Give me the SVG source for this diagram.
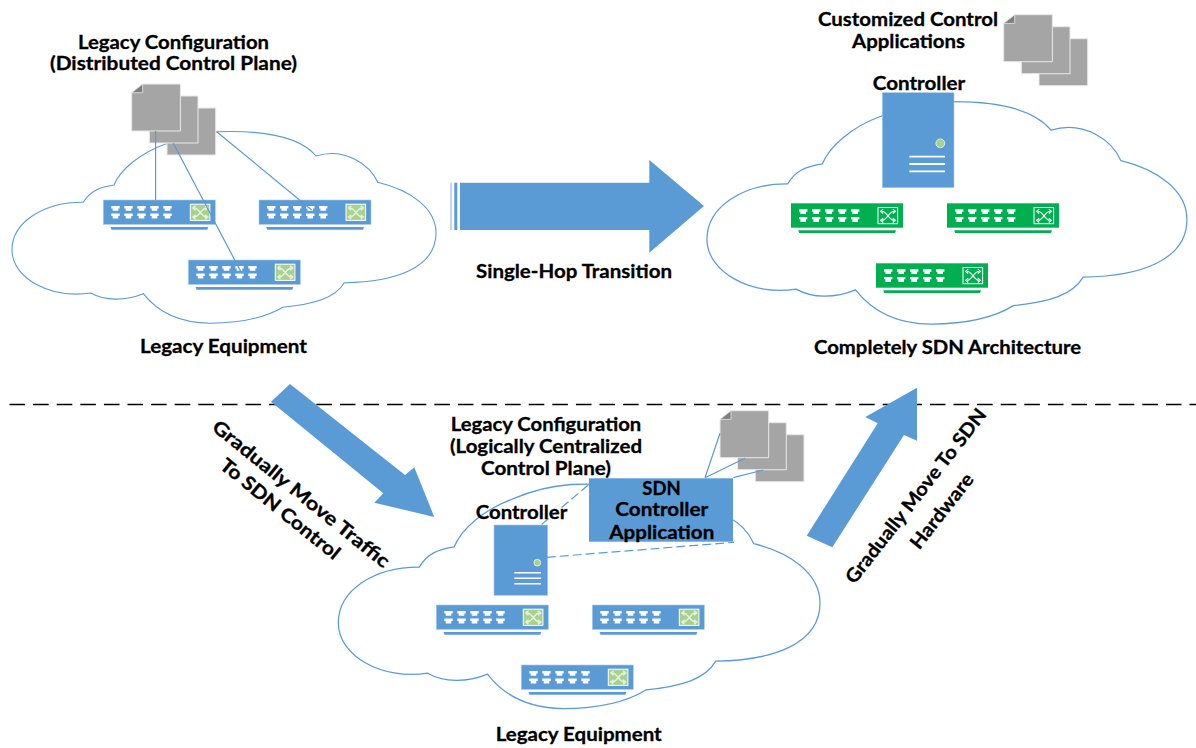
<svg xmlns="http://www.w3.org/2000/svg" xmlns:xlink="http://www.w3.org/1999/xlink" width="1196" height="748" viewBox="0 0 1196 748">
<style>
text{font-family:Lato,"Open Sans","Liberation Sans",sans-serif;font-weight:700;font-size:19px;fill:#000;stroke:#000;stroke-width:.3;text-anchor:middle}
.cloud{fill:none;stroke:#5b9bd5;stroke-width:1.1;vector-effect:non-scaling-stroke}
.conn{fill:none;stroke:#5b9bd5;stroke-width:1.2}
.dash{fill:none;stroke:#5b9bd5;stroke-width:1.2;stroke-dasharray:9 4}
.blue{fill:#5b9bd5}
.arrow{fill:#5b9bd5;stroke:none}
.doc{fill:#a5a5a5;stroke:#e9e9e9;stroke-width:1}
.port{fill:#fff}
.xl{fill:none;stroke:#fff;stroke-width:1.1}
.xg{fill:none;stroke:#e8f3e0;stroke-width:1.3}
</style>
<defs>
<path id="cl" d="M83.3,202.3C44,202 12,222 12,250C12,278 50,299 90.7,293C105,301 125,301 143.3,293.7C160,315 185,323 210,323.3C240,323 265,318 282.7,307.3C315,304 335,298 344.3,282.7C395,282 436,268 436,233C436,208 410,190 377.7,182.3C370,165 345,147 316,156C300,137 265,130 216.7,131.7C197,133 180,138 165.7,144C140,153 120,170 114,185C100,187 90,191 83.3,202.3Z"/>
<path id="xp" d="M91,8C96,8 98,17 103,17M91,17C96,17 98,8 103,8M92.2,5.8L89.6,8L92.2,10.2M92.2,14.8L89.6,17L92.2,19.2M101.8,5.8L104.4,8L101.8,10.2M101.8,14.8L104.4,17L101.8,19.2"/>
<g id="ports">
<path id="p1" class="port" d="M0,6H8.4V8.4H7V10.8H1.4V8.4H0ZM0,13.6H8.4V16H7V18.6H1.4V16H0Z"/>
<use xlink:href="#p1" href="#p1" x="13"/><use xlink:href="#p1" href="#p1" x="26"/><use xlink:href="#p1" href="#p1" x="39"/><use xlink:href="#p1" href="#p1" x="52"/>
</g>
<g id="swb">
<rect class="blue" width="112" height="24.4" stroke="#a9cbe8" stroke-width=".6"/>
<path class="blue" d="M7.2,27H105L104,29.8H8.2Z"/>
<use xlink:href="#ports" href="#ports" x="8"/>
<rect x="87" y="4.2" width="19.6" height="16.2" fill="#a9d18e" stroke="#fff" stroke-width="1"/>
<use xlink:href="#xp" href="#xp" class="xg"/>
</g>
<g id="swg">
<rect width="112" height="24.4" fill="#00b050"/>
<path fill="#00b050" d="M7.2,27H105L104,29.8H8.2Z"/>
<use xlink:href="#ports" href="#ports" x="8"/>
<rect x="87" y="4.2" width="19.6" height="16.2" fill="#00b050" stroke="#fff" stroke-width="1"/>
<use xlink:href="#xp" href="#xp" class="xl"/>
</g>
<g id="docs">
<rect class="doc" x="35.3" y="24" width="48.7" height="47"/>
<rect class="doc" x="17.6" y="12" width="48.7" height="47"/>
<path class="doc" d="M11,0H48.7V47H0V8.7Z"/>
<path fill="#7f7f7f" stroke="#e9e9e9" stroke-width=".8" d="M11,0V8.7H0Z"/>
</g>
</defs>

<g id="cloud-legacy-top"><use xlink:href="#cl" href="#cl" class="cloud"/></g>
<g id="cloud-sdn-top"><use xlink:href="#cl" href="#cl" class="cloud" transform="translate(693.4,-50.8) scale(1.132,1.16)"/></g>
<g id="cloud-legacy-bottom"><use xlink:href="#cl" href="#cl" class="cloud" transform="translate(324.7,330.4) scale(1.136,1.17)"/></g>

<g id="divider"><path d="M9.5,404.5H1196" fill="none" stroke="#000" stroke-width="1.7" stroke-dasharray="15.6 8"/></g>

<g id="switch-a1"><use xlink:href="#swb" href="#swb" x="103.3" y="200"/></g>
<g id="switch-a2"><use xlink:href="#swb" href="#swb" x="259" y="200"/></g>
<g id="switch-a3"><use xlink:href="#swb" href="#swb" x="188.3" y="260"/></g>
<g id="switch-b1"><use xlink:href="#swg" href="#swg" x="791" y="203.3"/></g>
<g id="switch-b2"><use xlink:href="#swg" href="#swg" x="947" y="203.3"/></g>
<g id="switch-b3"><use xlink:href="#swg" href="#swg" x="876" y="263.3"/></g>
<g id="switch-c1"><use xlink:href="#swb" href="#swb" x="436.3" y="605"/></g>
<g id="switch-c2"><use xlink:href="#swb" href="#swb" x="592.3" y="605"/></g>
<g id="switch-c3"><use xlink:href="#swb" href="#swb" x="521.3" y="665"/></g>

<g id="docs-a"><use xlink:href="#docs" href="#docs" x="131.7" y="84"/></g>
<g id="docs-b"><use xlink:href="#docs" href="#docs" x="1003.7" y="14.7"/></g>
<g id="docs-c"><use xlink:href="#docs" href="#docs" x="720" y="410.7"/></g>

<g id="controller-top">
<rect class="blue" x="882.3" y="92.7" width="71.7" height="95" stroke="#a9cbe8" stroke-width=".6"/>
<circle cx="940.3" cy="143.3" r="4.4" fill="#a9d18e" stroke="#fff" stroke-width=".7"/>
<path d="M909.3,156.7H945M909.3,164H945M909.3,171.3H945" stroke="#fff" stroke-width="1.8" fill="none"/>
</g>
<g id="controller-bottom">
<rect class="blue" x="494" y="525" width="53.7" height="70.3" stroke="#a9cbe8" stroke-width=".6"/>
<circle cx="537.3" cy="562.7" r="3.4" fill="#a9d18e" stroke="#fff" stroke-width=".7"/>
<path d="M514.3,572.7H541M514.3,578.2H541M514.3,583.7H541" stroke="#fff" stroke-width="1.4" fill="none"/>
</g>
<g id="sdn-app"><rect class="blue" x="589" y="478.3" width="144" height="63.4"/></g>

<g id="connectors">
<path class="conn" d="M155.6,131V200M173.3,143.3L241.7,273.3M216.7,131.7L311.7,210"/>
<path class="conn" d="M705,477.7L720,433.3M705,477.7L745,458.3M733.3,477.7L763.3,470"/>
<path class="dash" d="M588.3,485L535,530M546.7,557.3L734,542.3"/>
</g>

<g id="arrow-single-hop">
<path class="arrow" d="M460,182.7H649.3V160L704,206L649.3,252.7V230H460Z"/>
<rect class="arrow" x="454.3" y="182.7" width="3" height="47.3"/>
<rect x="450" y="182.7" width="2" height="47.3" fill="#bdd7ee"/>
</g>
<g id="arrow-down"><path class="arrow" d="M290,384L271,401.7L383.3,493.3L374.3,502.7L434.3,517L414.3,467.3L405,475Z"/></g>
<g id="arrow-up"><path class="arrow" d="M806.7,535.7L832.3,547.3L904,435L917,440.7V387.7L865.3,417L877.7,423.3Z"/></g>

<g id="labels">
<text x="173.5" y="48.5" textLength="191" lengthAdjust="spacingAndGlyphs">Legacy Configuration</text>
<text x="173.5" y="69.5" textLength="247" lengthAdjust="spacingAndGlyphs">(Distributed Control Plane)</text>
<text x="908" y="25.5" textLength="180" lengthAdjust="spacingAndGlyphs">Customized Control</text>
<text x="908.5" y="47.8" textLength="113" lengthAdjust="spacingAndGlyphs">Applications</text>
<text x="919" y="89.5" textLength="92.5" lengthAdjust="spacingAndGlyphs">Controller</text>
<text x="574" y="277.5" textLength="196" lengthAdjust="spacingAndGlyphs">Single-Hop Transition</text>
<text x="223.5" y="352.5" textLength="167" lengthAdjust="spacingAndGlyphs">Legacy Equipment</text>
<text x="947.5" y="353.5" textLength="267" lengthAdjust="spacingAndGlyphs">Completely SDN Architecture</text>
<text x="546" y="430.5" textLength="190.5" lengthAdjust="spacingAndGlyphs">Legacy Configuration</text>
<text x="546" y="453" textLength="192" lengthAdjust="spacingAndGlyphs">(Logically Centralized</text>
<text x="546" y="474.8" textLength="130" lengthAdjust="spacingAndGlyphs">Control Plane)</text>
<text x="661.5" y="494.5" textLength="38.4" lengthAdjust="spacingAndGlyphs">SDN</text>
<text x="661.8" y="516" textLength="93" lengthAdjust="spacingAndGlyphs">Controller</text>
<text x="661.8" y="538.8" textLength="105" lengthAdjust="spacingAndGlyphs">Application</text>
<text x="521.5" y="518.8" textLength="91.6" lengthAdjust="spacingAndGlyphs">Controller</text>
<text x="578.7" y="740.5" textLength="166" lengthAdjust="spacingAndGlyphs">Legacy Equipment</text>
<text transform="translate(297,499) rotate(39)" textLength="222" lengthAdjust="spacingAndGlyphs">Gradually Move Traffic</text>
<text transform="translate(276,514) rotate(39)" textLength="148" lengthAdjust="spacingAndGlyphs">To SDN Control</text>
<text transform="translate(921,500) rotate(-52)" textLength="216" lengthAdjust="spacingAndGlyphs">Gradually Move To SDN</text>
<text transform="translate(947,515) rotate(-52)" textLength="90" lengthAdjust="spacingAndGlyphs">Hardware</text>
</g>
</svg>
